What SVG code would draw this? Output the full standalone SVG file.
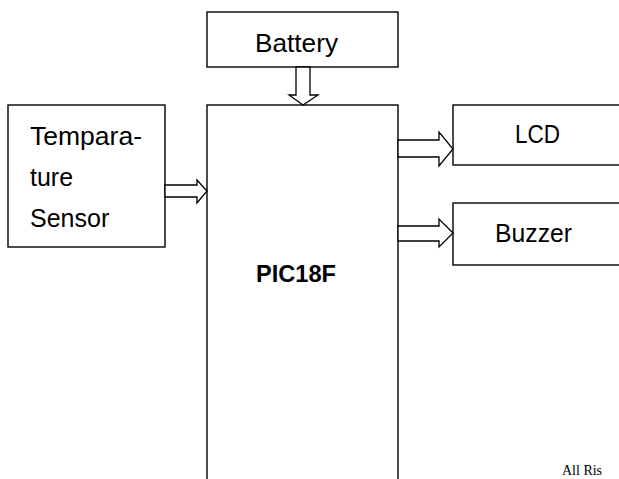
<svg xmlns="http://www.w3.org/2000/svg" width="619" height="479" viewBox="0 0 619 479">
<style>
.box{fill:#fff;stroke:#000;stroke-width:1.4}
.arr{fill:#fff;stroke:#000;stroke-width:1.3;stroke-linejoin:miter}
.t{font-family:"Liberation Sans",Arial,sans-serif;font-size:25px;fill:#000}
.b{font-family:"Liberation Sans",Arial,sans-serif;font-size:24px;font-weight:bold;fill:#000}
.s{font-family:"Liberation Serif","Times New Roman",serif;font-size:14px;fill:#000}
</style>
<rect width="619" height="479" fill="#fff"/>
<g id="battery">
<rect class="box" x="207" y="12" width="191" height="55"/>
<text class="t" x="255" y="52" textLength="83" lengthAdjust="spacingAndGlyphs">Battery</text>
</g>
<g id="pic">
<rect class="box" x="207" y="105" width="191" height="390"/>
<text class="b" x="256" y="282" textLength="80" lengthAdjust="spacingAndGlyphs">PIC18F</text>
</g>
<g id="sensor">
<rect class="box" x="8" y="105" width="157" height="142"/>
<text class="t" x="30" y="145" textLength="112" lengthAdjust="spacingAndGlyphs">Tempara-</text>
<text class="t" x="30" y="186">ture</text>
<text class="t" x="30" y="227">Sensor</text>
</g>
<g id="lcd">
<rect class="box" x="453" y="105" width="180" height="60"/>
<text class="t" x="515" y="143" textLength="45" lengthAdjust="spacingAndGlyphs">LCD</text>
</g>
<g id="buzzer">
<rect class="box" x="453" y="203" width="180" height="62"/>
<text class="t" x="495" y="242" textLength="77" lengthAdjust="spacingAndGlyphs">Buzzer</text>
</g>
<g id="connectors">
<polygon class="arr" points="296,67 310,67 310,95 318,95 303,105 289,95 296,95"/>
<polygon class="arr" points="398,140 439,140 439,132 453,149 439,166 439,157 398,157"/>
<polygon class="arr" points="398,226 439,226 439,219 453,233 439,247 439,241 398,241"/>
<polygon class="arr" points="165,185 197,185 197,180 207,191 197,203 197,197 165,197"/>
</g>
<text class="s" x="562" y="475">All Ris</text>
</svg>
